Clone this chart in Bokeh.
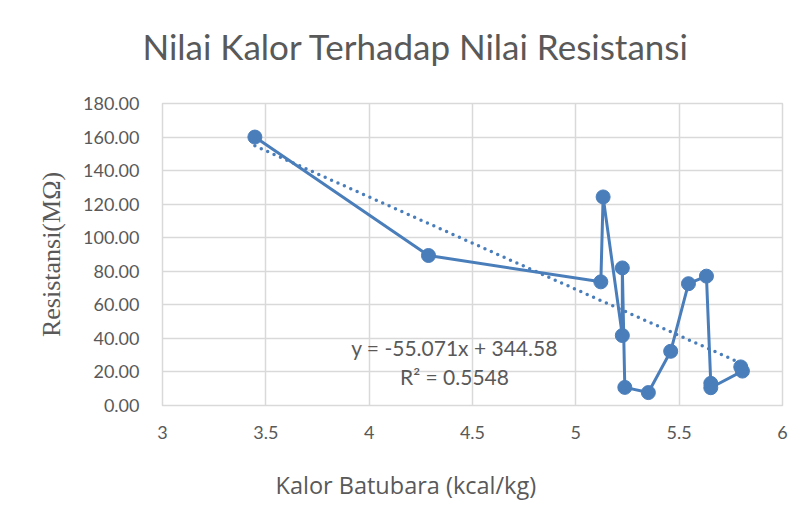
from bokeh.plotting import figure
from bokeh.models import Label, NumeralTickFormatter, FixedTicker, Range1d, Title
from bokeh.embed import file_html
from bokeh.resources import INLINE

# ---- data ----
title_text = "Nilai Kalor Terhadap Nilai Resistansi"
x_label = "Kalor Batubara (kcal/kg)"
y_label = "Resistansi(MΩ)"

kalor = [3.447, 4.287, 5.121, 5.132, 5.225, 5.225, 5.237, 5.351,
         5.459, 5.545, 5.632, 5.653, 5.653, 5.806, 5.798]
resistansi = [160.0, 89.4, 73.7, 124.3, 41.7, 82.0, 10.8, 7.7,
              32.3, 72.6, 77.1, 13.2, 10.6, 20.5, 23.0]

trend_slope = -55.071
trend_intercept = 344.58
trend_r2 = 0.5548

x_ticks = [3, 3.5, 4, 4.5, 5, 5.5, 6]
x_tick_labels = ["3", "3.5", "4", "4.5", "5", "5.5", "6"]
y_ticks = [0, 20, 40, 60, 80, 100, 120, 140, 160, 180]

# ---- style ----
BLUE = "#4a7ebb"
TXT = "#595959"
GRID = "#d9d9d9"
SANS = "Lato"

p = figure(width=796, height=510, output_backend="svg", toolbar_location=None,
           x_range=Range1d(3, 6), y_range=Range1d(0, 180))
p.min_border_left = 162
p.min_border_right = 14
p.min_border_top = 102
p.min_border_bottom = 105

p.outline_line_color = GRID
p.outline_line_width = 1.5
p.background_fill_color = "white"
p.border_fill_color = "white"

for g in (p.xgrid, p.ygrid):
    g.grid_line_color = GRID
    g.grid_line_width = 1.5
p.xgrid.ticker = FixedTicker(ticks=x_ticks)
p.ygrid.ticker = FixedTicker(ticks=y_ticks)

p.xaxis.ticker = FixedTicker(ticks=x_ticks)
p.xaxis.major_label_overrides = {t: l for t, l in zip(x_ticks, x_tick_labels)}
p.yaxis.ticker = FixedTicker(ticks=y_ticks)
p.yaxis.formatter = NumeralTickFormatter(format="0.00")

for ax in (p.xaxis, p.yaxis):
    ax.axis_line_color = None
    ax.major_tick_line_color = None
    ax.minor_tick_line_color = None
    ax.major_tick_out = 0
    ax.major_tick_in = 0
    ax.major_label_text_font = SANS
    ax.major_label_text_font_size = "18px"
    ax.major_label_text_color = TXT

p.yaxis.major_label_standoff = 23
p.xaxis.major_label_standoff = 20

# spacer below the x tick labels (blank axis label)
p.xaxis.axis_label = " "
p.xaxis.axis_label_text_font_size = "4px"
p.xaxis.axis_label_standoff = 12

p.yaxis.axis_label = y_label
p.yaxis.axis_label_text_font = "Liberation Serif"
p.yaxis.axis_label_text_font_size = "26px"
p.yaxis.axis_label_text_font_style = "normal"
p.yaxis.axis_label_text_color = TXT
p.yaxis.axis_label_standoff = 14

# main title (above), positioned from the frame's left edge
p.title = Title(text=title_text, align="left", offset=-20, standoff=46,
                vertical_align="middle", text_font=SANS, text_font_size="35px",
                text_font_style="normal", text_color=TXT)
# small spacer between title and plot area
p.add_layout(Title(text=" ", standoff=6, text_font_size="4px"), "above")

# x axis title (below), positioned from the frame's left edge
p.add_layout(Title(text=x_label, align="left", offset=113, standoff=12,
                   vertical_align="middle", text_font="Open Sans", text_font_size="23.5px",
                   text_font_style="normal", text_color=TXT), "below")

# trendline (from displayed equation)
tx = [min(kalor), max(kalor)]
ty = [trend_slope * v + trend_intercept for v in tx]
p.line(tx, ty, line_color=BLUE, line_width=3.5, line_dash="0 7", line_cap="round")

# data series
p.line(kalor, resistansi, line_color=BLUE, line_width=3, line_join="round")
p.scatter(kalor, resistansi, size=14, fill_color=BLUE, line_color=BLUE)

# equation labels
p.add_layout(Label(x=292, y=58, x_units="screen", y_units="screen",
                   text=f"y = {trend_slope}x + {trend_intercept}",
                   text_font=SANS, text_font_size="21px", text_color=TXT,
                   text_align="center", text_baseline="middle"))
p.add_layout(Label(x=292, y=29, x_units="screen", y_units="screen",
                   text=f"R² = {trend_r2}",
                   text_font=SANS, text_font_size="21px", text_color=TXT,
                   text_align="center", text_baseline="middle"))

open("out.html", "w").write(file_html(p, INLINE))
